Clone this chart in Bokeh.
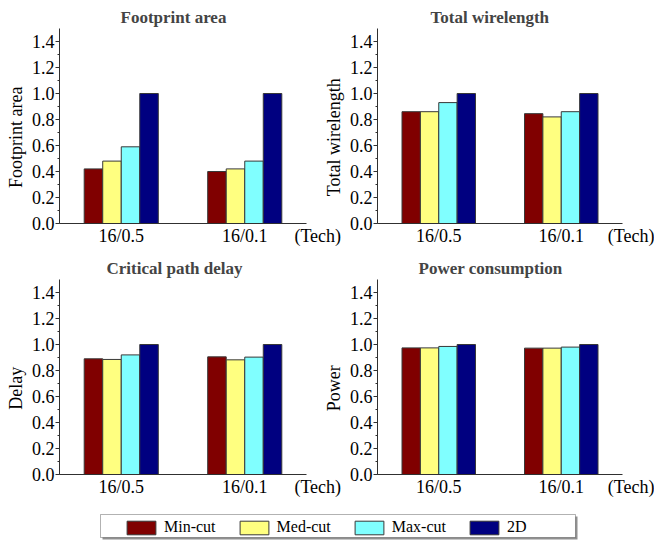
from bokeh.plotting import figure
from bokeh.layouts import column, row
from bokeh.models import (Range1d, FixedTicker, SingleIntervalTicker, PrintfTickFormatter,
                          Legend, LegendItem, BoxAnnotation, ColumnDataSource)
from bokeh.transform import dodge
from bokeh.embed import file_html
from bokeh.resources import INLINE

# ---------------- data ----------------
techs = ["16/0.5", "16/0.1"]
series = ["Min-cut", "Med-cut", "Max-cut", "2D"]
colors = ["#800000", "#FFFF80", "#80FFFF", "#000080"]

# values per series (Min-cut, Med-cut, Max-cut, 2D), each over techs
footprint_area = [[0.42, 0.40], [0.48, 0.42], [0.59, 0.48], [1.00, 1.00]]
total_wirelength = [[0.86, 0.845], [0.86, 0.82], [0.93, 0.86], [1.00, 1.00]]
critical_delay = [[0.89, 0.905], [0.885, 0.882], [0.92, 0.903], [1.00, 1.00]]
power = [[0.974, 0.972], [0.974, 0.972], [0.985, 0.98], [1.00, 1.00]]

titles = ["Footprint area", "Total wirelength", "Critical path delay", "Power consumption"]
ylabels = ["Footprint area", "Total wirelength", "Delay", "Power"]
xlabel = "(Tech)"

FONT = "Liberation Serif"
AX = "#303030"
NB = "\u00a0"


def panel(title, ylabel, values, left, top, title_offset):
    kw = dict(output_backend="svg", toolbar_location=None,
              x_range=Range1d(0, len(techs)), y_range=Range1d(0, 1.5))
    if left:
        kw.update(width=350, min_border_left=59, min_border_right=44)
    else:
        kw.update(width=334, min_border_left=55, min_border_right=32, margin=(0, 0, 0, -30))
    if top:
        kw.update(height=250, min_border_top=28, min_border_bottom=27)
    else:
        kw.update(height=255, min_border_top=29, min_border_bottom=31)
    p = figure(**kw)
    p.border_fill_alpha = 0
    p.background_fill_color = None
    p.outline_line_color = None
    p.xgrid.visible = False
    p.ygrid.visible = False

    centers = [i + 0.5 for i in range(len(techs))]
    data = {"x": centers}
    for s, v in zip(series, values):
        data[s] = v
    src = ColumnDataSource(data)
    n = len(series)
    w = 0.15
    for j, (s, c) in enumerate(zip(series, colors)):
        off = (j - (n - 1) / 2) * w
        p.vbar(x=dodge("x", off), top=s, width=w, source=src,
               fill_color=c, line_color="#383838", line_width=1)

    p.title.text = title
    p.title.text_font = FONT
    p.title.text_font_size = "17px"
    p.title.text_font_style = "bold"
    p.title.align = "left"
    p.title.offset = title_offset
    p.title.standoff = 3

    p.yaxis.ticker = SingleIntervalTicker(interval=0.2, num_minor_ticks=2)
    p.yaxis.formatter = PrintfTickFormatter(format="%.1f")
    # trailing no-break spaces nudge the rotated label slightly downward, as in the original
    p.yaxis.axis_label = ylabel + NB * 5
    p.yaxis.axis_label_standoff = 3

    p.xaxis.ticker = FixedTicker(ticks=centers + [float(len(techs))])
    overrides = {c: t for c, t in zip(centers, techs)}
    overrides[float(len(techs))] = NB * 5 + xlabel
    p.xaxis.major_label_overrides = overrides

    for ax in (p.xaxis[0], p.yaxis[0]):
        ax.axis_line_color = AX
        ax.major_tick_line_color = AX
        ax.minor_tick_line_color = AX
        ax.major_tick_in = 0
        ax.major_tick_out = 4
        ax.minor_tick_in = 0
        ax.minor_tick_out = 2
        ax.major_label_text_font = FONT
        ax.major_label_text_font_size = "18px"
        ax.major_label_text_color = "black"
        ax.axis_label_text_font = FONT
        ax.axis_label_text_font_size = "18px"
        ax.axis_label_text_font_style = "normal"
        ax.axis_label_text_color = "black"
    p.xaxis.major_tick_out = 0
    p.yaxis.major_label_standoff = 1
    p.xaxis.major_label_standoff = 2
    return p


p1 = panel(titles[0], ylabels[0], footprint_area, True, True, 61)
p2 = panel(titles[1], ylabels[1], total_wirelength, False, True, 53)
p3 = panel(titles[2], ylabels[2], critical_delay, True, False, 47)
p4 = panel(titles[3], ylabels[3], power, False, False, 41)

# ---------------- legend strip ----------------
pl = figure(width=654, height=35, x_range=Range1d(0, 654), y_range=Range1d(0, 35),
            min_border=0, output_backend="svg", toolbar_location=None)
pl.axis.visible = False
pl.grid.visible = False
pl.outline_line_color = None
pl.border_fill_alpha = 0
pl.background_fill_color = None
pl.add_layout(BoxAnnotation(left=102, right=577, bottom=1, top=24, fill_color="#909090",
                            fill_alpha=1, line_color=None))
pl.add_layout(BoxAnnotation(left=100, right=575, bottom=3, top=26, fill_color="white",
                            fill_alpha=1, line_color="black", line_width=1))
items = []
for s, c in zip(series, colors):
    # off-canvas proxy bar, only used to draw the legend swatch
    r = pl.vbar(x=[-50], top=[0], width=1, fill_color=c, line_color="#383838", line_width=1)
    items.append(LegendItem(label=s, renderers=[r]))
leg = Legend(items=items, orientation="horizontal", location=(123, 4), padding=0, margin=0,
             spacing=20, label_standoff=5, glyph_width=36, glyph_height=17, label_height=17,
             border_line_color=None, background_fill_alpha=0,
             label_text_font=FONT, label_text_font_size="16px", label_text_color="black")
pl.add_layout(leg, "center")

layout = column(row(p1, p2), row(p3, p4), pl)
open("out.html", "w").write(file_html(layout, INLINE))
